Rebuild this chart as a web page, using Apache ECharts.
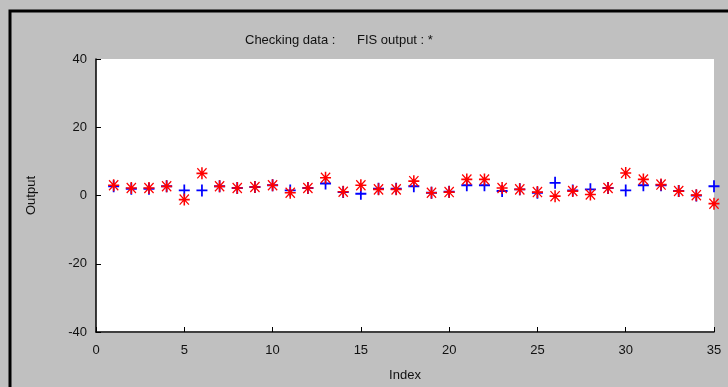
<!DOCTYPE html>
<html>
<head>
<meta charset="utf-8">
<script src="https://cdn.jsdelivr.net/npm/echarts@6/dist/echarts.min.js"></script>
<style>
  html, body { margin: 0; padding: 0; background: #c0c0c0; }
  #main { width: 728px; height: 387px; }
</style>
</head>
<body>
<div id="main"></div>
<script>
var chart = echarts.init(document.getElementById('main'));

// data
var indexes = [1, 2, 3, 4, 5, 6, 7, 8, 9, 10, 11, 12, 13, 14, 15, 16, 17, 18,
               19, 20, 21, 22, 23, 24, 25, 26, 27, 28, 29, 30, 31, 32, 33, 34, 35];
var checkingData = [2.7, 2, 2, 2.7, 1.5, 1.5, 2.7, 2.2, 2.5, 3, 1.5, 2.2, 3.5, 1, 0.5, 2, 2, 2.7,
                    0.8, 1.1, 3, 3, 1.3, 1.8, 0.8, 3.7, 1.5, 1.8, 2.2, 1.5, 3, 3, 1.3, 0, 2.7];
var fisOutput = [3, 2.2, 2.2, 2.7, -1.2, 6.5, 2.7, 2.2, 2.5, 3, 0.8, 2.2, 5.2, 1.1, 3, 1.8, 1.8, 4.2,
                 0.8, 1, 4.7, 4.7, 2.2, 1.8, 1, -0.2, 1.3, 0.3, 2.2, 6.6, 4.7, 3.2, 1.3, 0.1, -2.4];
var xTicks = [0, 5, 10, 15, 20, 25, 30, 35];
var yTicks = [-40, -20, 0, 20, 40];

function pairs(ys) {
  return indexes.map(function (x, i) { return [x, ys[i]]; });
}

var plusPath = 'path://M4.2,0h1.6v10h-1.6zM0,4.2h10v1.6h-10z';
var starPath = 'path://M4.3,0h1.4v10h-1.4zM0,4.3h10v1.4h-10z' +
               'M1.2,0.4L9.6,8.8L8.8,9.6L0.4,1.2zM8.8,0.4L9.6,1.2L1.2,9.6L0.4,8.8z' +
               'M3.4,3.4h3.2v3.2h-3.2z';

var font = 'Liberation Sans';

var option = {
  backgroundColor: '#c0c0c0',
  animation: false,
  graphic: [{
    type: 'rect',
    shape: { x: 10, y: 11, width: 760, height: 420 },
    style: { fill: 'none', stroke: '#000', lineWidth: 3 },
    silent: true
  }, {
    type: 'rect',
    z: -1,
    shape: { x: 96, y: 59, width: 618, height: 274 },
    style: { fill: '#fff' },
    silent: true
  }],
  title: {
    text: 'Checking data :      FIS output : *',
    left: 240,
    top: 29,
    textStyle: { fontFamily: font, fontSize: 13, fontWeight: 'normal', color: '#111' }
  },
  grid: { left: 96, top: 59, right: 14, bottom: 54 },
  xAxis: {
    type: 'value',
    min: 0, max: 35, interval: 5,
    name: 'Index',
    nameLocation: 'middle',
    nameGap: 37,
    nameTextStyle: { fontFamily: font, fontSize: 13, color: '#111' },
    axisLine: { onZero: false, lineStyle: { color: '#000', width: 1.5 } },
    axisTick: { inside: true, length: 5, lineStyle: { color: '#000' } },
    axisLabel: {
      fontFamily: font, fontSize: 13, color: '#111', margin: 12,
      formatter: function (v) { return xTicks.indexOf(v) >= 0 ? String(v) : ''; }
    },
    splitLine: { show: false }
  },
  yAxis: {
    type: 'value',
    min: -40, max: 40, interval: 20,
    name: 'Output',
    nameLocation: 'middle',
    nameGap: 58,
    nameTextStyle: { fontFamily: font, fontSize: 13, color: '#111' },
    axisLine: { onZero: false, lineStyle: { color: '#000', width: 1.5 } },
    axisTick: { inside: true, length: 5, lineStyle: { color: '#000' } },
    axisLabel: {
      fontFamily: font, fontSize: 13, color: '#111', margin: 9,
      formatter: function (v) { return yTicks.indexOf(v) >= 0 ? String(v) : ''; }
    },
    splitLine: { show: false }
  },
  series: [{
    name: 'Checking data',
    type: 'scatter',
    data: pairs(checkingData),
    symbol: plusPath,
    symbolSize: [11, 12],
    itemStyle: { color: '#0000ff', opacity: 1 }
  }, {
    name: 'FIS output',
    type: 'scatter',
    data: pairs(fisOutput),
    symbol: starPath,
    symbolSize: [11, 12],
    itemStyle: { color: '#ff0000', opacity: 1 }
  }]
};

chart.setOption(option);
</script>
</body>
</html>
